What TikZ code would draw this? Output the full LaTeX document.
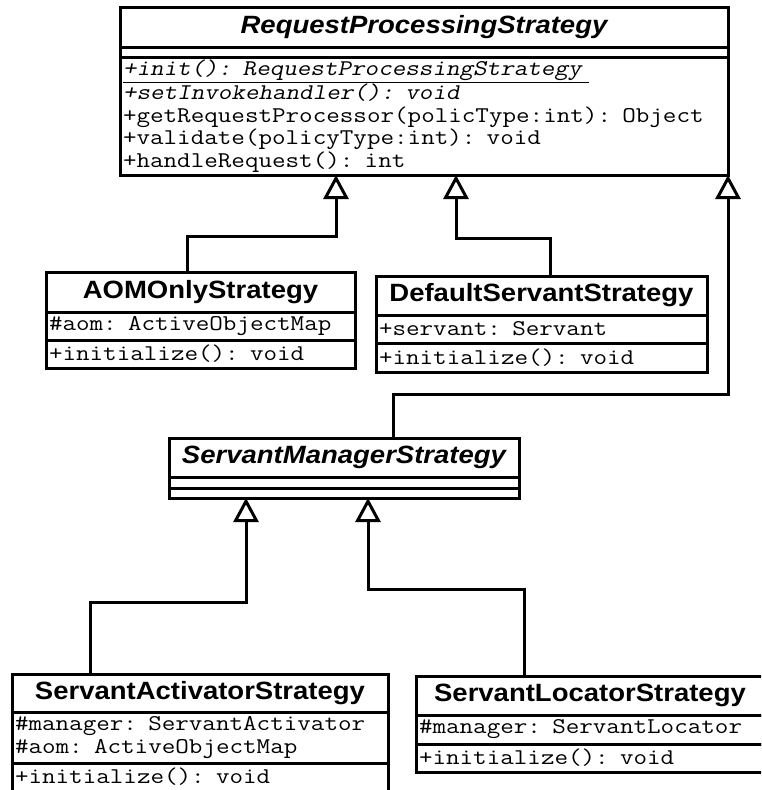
\documentclass[tikz,border=0pt]{standalone}
\usepackage{fontspec}
\usepackage{tikz}
\usetikzlibrary{positioning}
\usetikzlibrary{arrows.meta}
\newfontfamily\titlefont[FakeStretch=1.1]{Liberation Sans}
\newfontfamily\memberfont[FakeStretch=1.17]{Latin Modern Mono}
\newfontfamily\memberslant[FakeStretch=1.17, FakeSlant=0.2]{Latin Modern Mono}

\begin{document}
\begin{tikzpicture}[x=1pt, y=-1pt,
    every node/.style={draw, rectangle, line width=3pt, inner sep=0pt, outer sep=0pt},
    classname/.style={font=\titlefont\fontsize{25}{28}\selectfont\bfseries},
    members/.style={font=\memberfont\fontsize{22.5}{22.5}\selectfont, align=left, inner xsep=3pt},
    inherit/.style={line width=3pt, -{Triangle[open, length=24pt, width=25pt]}}]
    \useasboundingbox (0,0) rectangle (761,790);
    \clip (0,0) rectangle (761,790);

    % Clases
    \node[classname, minimum width=608, minimum height=40] (rps) at (424,27) {\itshape RequestProcessingStrategy};
    \node[minimum width=608, minimum height=10.5, below=0pt of rps] (rpsattr) {};
    \node[members, text width=602, minimum height=117.5, below=0pt of rpsattr] (rpsops)
        {\underline{\memberslant +init(): RequestProcessingStrategy\ }\\
         {\memberslant +setInvokehandler(): void}\\
         +getRequestProcessor(policType:int): Object\\
         +validate(policyType:int): void\\
         +handleRequest(): int};

    \node[classname, minimum width=309, minimum height=40] (aom) at (200.5,292) {AOMOnlyStrategy};
    \node[members, text width=303, minimum height=28, below=0pt of aom] (aomattr) {\#aom: ActiveObjectMap};
    \node[members, text width=303, minimum height=28, below=0pt of aomattr] (aomops) {+initialize(): void};

    \node[classname, minimum width=331, minimum height=39] (dss) at (541.5,295.5) {DefaultServantStrategy};
    \node[members, text width=325, minimum height=28, below=0pt of dss] (dssattr) {+servant: Servant};
    \node[members, text width=325, minimum height=29, below=0pt of dssattr] (dssops) {+initialize(): void};

    \node[classname, minimum width=350, minimum height=39] (sms) at (344,457.5) {\itshape ServantManagerStrategy};
    \node[minimum width=350, minimum height=11, below=0pt of sms] (smsattr) {};
    \node[minimum width=350, minimum height=10, below=0pt of smsattr] (smsops) {};

    \node[classname, minimum width=376, minimum height=38] (sas) at (200,693) {ServantActivatorStrategy};
    \node[members, text width=370, minimum height=51, below=0pt of sas] (sasattr)
        {\#manager: ServantActivator\\ \#aom: ActiveObjectMap};
    \node[members, text width=370, minimum height=28, below=0pt of sasattr] (sasops) {+initialize(): void};

    \node[classname, minimum width=348, minimum height=39] (sls) at (590,695.5) {ServantLocatorStrategy};
    \node[members, text width=342, minimum height=29, below=0pt of sls] (slsattr) {\#manager: ServantLocator};
    \node[members, text width=342, minimum height=28, below=0pt of slsattr] (slsops) {+initialize(): void};

    % Herencia
    \draw[inherit] ([xshift=-13.5pt]aom.north) -- ++(0,-36) -| ([xshift=-88pt]rpsops.south);
    \draw[inherit] ([xshift=8.5pt]dss.north) -- ++(0,-38) -| ([xshift=32pt]rpsops.south);
    \draw[inherit] ([xshift=49pt]sms.north) -- ++(0,-44) -| (rpsops.south east);
    \draw[inherit] ([xshift=-110pt]sas.north) -- ++(0,-72) -| ([xshift=-98pt]smsops.south);
    \draw[inherit] ([xshift=-66pt]sls.north) -- ++(0,-87) -| ([xshift=24pt]smsops.south);
\end{tikzpicture}
\end{document}
